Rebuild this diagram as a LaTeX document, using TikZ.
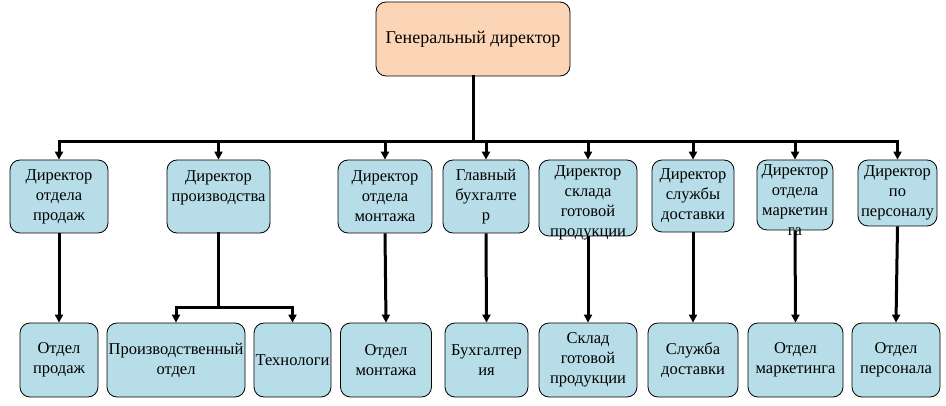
\documentclass[tikz,border=0pt]{standalone}
\usepackage{fontspec}
\setmainfont{Liberation Serif}
\newfontfamily\boxfont{Liberation Serif}
\usetikzlibrary{arrows.meta}
\definecolor{chieffill}{HTML}{FBD5B5}
\definecolor{unitfill}{HTML}{B7DEE8}
% text block hung from the top of a box of fixed height
\newcommand{\toplines}[3]{\parbox[c][#1][t]{#2}{\centering #3}}
\begin{document}
\begin{tikzpicture}[x=1pt, y=-1pt,
    chief/.style={draw, line width=0.8pt, fill=chieffill, rounded corners=10pt, inner sep=1pt,
        font=\boxfont\fontsize{18}{22}\selectfont},
    unit/.style={draw, line width=0.8pt, fill=unitfill, rounded corners=10pt, align=center, inner sep=1pt,
        font=\boxfont\fontsize{16.5}{20}\selectfont},
    bus/.style={line width=3pt, line cap=rect},
    link/.style={line width=3pt, -{Triangle[length=8pt, width=8pt]}}]

    \useasboundingbox (0,0) rectangle (946,406);

    % General director
    \node[chief, minimum width=194pt, minimum height=74pt] (gd) at (473,39) {Генеральный директор};

    % Directors
    \node[unit, minimum width=98pt, minimum height=73pt] (dsales) at (59,196.5) {Директор\\отдела\\продаж};
    \node[unit, minimum width=103pt, minimum height=73pt] (dprod) at (218.5,196.5) {Директор\\производства\\\mbox{}};
    \node[unit, minimum width=94pt, minimum height=73pt] (dmount) at (385,196.5) {Директор\\отдела\\монтажа};
    \node[unit, minimum width=86pt, minimum height=73pt] (dacc) at (486,196.5) {Главный\\бухгалте\\р};
    \node[unit, minimum width=98pt, minimum height=76pt] (dstore) at (588,198)
        {\toplines{64pt}{94pt}{Директор\\склада\\готовой\\продукции}};
    \node[unit, minimum width=82pt, minimum height=72pt] (ddeliv) at (693,196) {Директор\\службы\\доставки};
    \node[unit, minimum width=76pt, minimum height=70pt] (dmark) at (795,195)
        {\toplines{60pt}{74pt}{Директор\\отдела\\маркетин\\га}};
    \node[unit, minimum width=79pt, minimum height=66pt] (dstaff) at (897.5,193) {Директор\\по\\персоналу};

    % Departments
    \node[unit, minimum width=78pt, minimum height=74pt] (osales) at (59,360) {Отдел\\продаж};
    \node[unit, minimum width=138pt, minimum height=74pt] (oprod) at (176,360) {Производственный\\отдел};
    \node[unit, minimum width=77pt, minimum height=74pt] (otech) at (292.5,360) {Технологи};
    \node[unit, minimum width=91pt, minimum height=74pt] (omount) at (386,360) {Отдел\\монтажа};
    \node[unit, minimum width=83pt, minimum height=74pt] (oacc) at (486.5,360) {Бухгалтер\\ия};
    \node[unit, minimum width=98pt, minimum height=74pt] (ostore) at (588,360) {Склад\\готовой\\продукции};
    \node[unit, minimum width=90pt, minimum height=74pt] (odeliv) at (693,360) {Служба\\доставки};
    \node[unit, minimum width=95pt, minimum height=74pt] (omark) at (795.5,360) {Отдел\\маркетинга};
    \node[unit, minimum width=88pt, minimum height=74pt] (ostaff) at (896,360) {Отдел\\персонала};

    % Bus from the general director
    \draw[bus] (gd.south) -- ++(0,65) coordinate (hub);
    \draw[bus] (hub -| dsales.north) -- (hub -| dstaff.north);
    \foreach \n in {dsales, dprod, dmount, dacc, dstore, ddeliv, dmark, dstaff}
        \draw[link] (hub -| \n.north) -- (\n.north);

    % Directors to departments
    \foreach \d/\o in {dsales/osales, dmount/omount, dacc/oacc, dstore/ostore,
                       ddeliv/odeliv, dmark/omark, dstaff/ostaff}
        \draw[link] (\d.south) -- (\o.north);

    % Production branch
    \draw[bus] (dprod.south) -- ++(0,74) coordinate (phub);
    \draw[bus] (phub -| oprod.north) -- (phub -| otech.north);
    \draw[link] (phub -| oprod.north) -- (oprod.north);
    \draw[link] (phub -| otech.north) -- (otech.north);
\end{tikzpicture}
\end{document}
